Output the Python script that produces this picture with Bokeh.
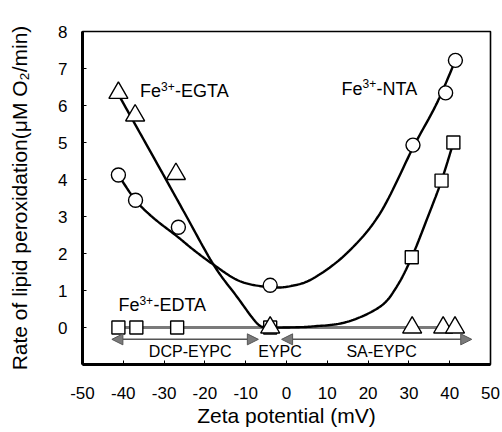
import numpy as np
from bokeh.plotting import figure
from bokeh.models import Range1d, FixedTicker, Arrow, NormalHead
from bokeh.core.properties import value
from bokeh.embed import file_html
from bokeh.resources import INLINE

# Measured rates of lipid peroxidation vs. zeta potential of the liposomes
nta_x = [-41.2, -37.0, -26.5, -4.0, 31.0, 39.0, 41.4]
nta_y = [4.12, 3.44, 2.71, 1.14, 4.93, 6.34, 7.22]

egta_x = [-41.2, -37.1, -27.1, -4.0, 30.8, 38.4, 41.3]
egta_y = [6.34, 5.73, 4.15, 0.0, 0.0, 0.0, 0.0]

edta_x = [-41.2, -36.8, -26.8, -4.0, 30.7, 38.0, 40.9]
edta_y = [0.0, 0.0, 0.0, 0.0, 1.90, 3.97, 5.00]

# Fitted trend curves (sampled along each curve)
nta_fit_x = [-41.2, -37.0, -32.6, -26.9, -22.8, -17.9, -11.4, -4.0, 1.0, 6.6, 14.8, 22.9, 31.1, 36.8, 41.4]
nta_fit_y = [4.12, 3.44, 2.96, 2.47, 2.10, 1.70, 1.25, 1.09, 1.12, 1.33, 2.01, 3.08, 4.88, 6.05, 7.22]

egta_fit_x = [-41.2, -37.1, -30.4, -24.9, -17.9, -12.2, -7.3, -5.0]
egta_fit_y = [6.30, 5.49, 4.17, 3.08, 1.70, 0.84, 0.12, 0.0]

edta_fit_x = [-4.0, 0.0, 6.6, 14.8, 22.9, 27.0, 30.7, 34.5, 38.0, 40.9]
edta_fit_y = [0.0, 0.0, 0.03, 0.15, 0.56, 1.10, 1.90, 2.95, 3.97, 5.00]

# Chelator labels: base name, charge, complex name
chelator_base = ["Fe", "Fe", "Fe"]
chelator_charge = ["3+", "3+", "3+"]
chelator_tail = ["-EGTA", "-NTA", "-EDTA"]
chelator_label_x = [-35.9, 13.5, -41.2]
chelator_label_y = [6.39, 6.45, 0.60]

# Liposome composition ranges along the zeta axis
region_names = ["DCP-EYPC", "EYPC", "SA-EYPC"]
region_label_x = [-23.6, -1.6, 23.3]
region_label_y = [-0.66, -0.66, -0.66]
dcp_span = (-42.8, -6.9)
sa_span = (-1.2, 45.4)
span_y = -0.32

x_ticks = list(range(-50, 51, 10))
y_ticks = list(range(0, 9))

FONT = "Liberation Sans"


def smooth(xs, ys, n=16):
    """Catmull-Rom path through the sampled curve points."""
    pts = list(zip(xs, ys))
    out_x, out_y = [], []
    for i in range(len(pts) - 1):
        p0 = pts[i - 1] if i > 0 else pts[i]
        p1, p2 = pts[i], pts[i + 1]
        p3 = pts[i + 2] if i + 2 < len(pts) else pts[i + 1]
        for t in np.linspace(0, 1, n, endpoint=False):
            t2, t3 = t * t, t * t * t
            for k, out in ((0, out_x), (1, out_y)):
                out.append(0.5 * (2 * p1[k] + (-p0[k] + p2[k]) * t
                                  + (2 * p0[k] - 5 * p1[k] + 4 * p2[k] - p3[k]) * t2
                                  + (-p0[k] + 3 * p1[k] - 3 * p2[k] + p3[k]) * t3))
    out_x.append(pts[-1][0])
    out_y.append(pts[-1][1])
    return out_x, out_y


p = figure(
    width=502, height=432,
    x_range=Range1d(-50, 50), y_range=Range1d(-1, 8),
    output_backend="svg", toolbar_location=None,
    min_border_left=82, min_border_right=12,
    min_border_top=31, min_border_bottom=68,
)
p.background_fill_color = "white"
p.border_fill_color = "white"
p.outline_line_color = "black"
p.outline_line_width = 1.6
p.xgrid.visible = False
p.ygrid.visible = False

for ax in (p.xaxis[0], p.yaxis[0]):
    ax.axis_line_width = 3
    ax.axis_line_color = "black"
    ax.major_tick_in = 4
    ax.major_tick_out = 0
    ax.major_tick_line_width = 1
    ax.minor_tick_line_color = None
    ax.major_label_text_font = FONT
    ax.major_label_text_font_size = "17px"
    ax.major_label_text_color = "black"
    ax.axis_label_text_font = FONT
    ax.axis_label_text_font_size = "21px"
    ax.axis_label_text_font_style = "normal"
    ax.axis_label_text_color = "black"

p.xaxis.ticker = FixedTicker(ticks=x_ticks)
p.yaxis.ticker = FixedTicker(ticks=y_ticks)
p.xaxis.major_label_overrides = {t: str(t) for t in x_ticks}
p.xaxis.axis_label = "Zeta potential (mV)"
p.yaxis.axis_label = "Rate of lipid peroxidation(μM O₂/min)"
p.xaxis.major_label_standoff = 22
p.xaxis.axis_label_standoff = 2
p.yaxis.major_label_standoff = 15
p.yaxis.axis_label_standoff = 24

# zero-rate baselines
p.line(edta_x[:4], edta_y[:4], line_color="#7a7a7a", line_width=3)
p.line(egta_x[3:], egta_y[3:], line_color="#7a7a7a", line_width=3)

# fitted curves
for fx, fy in ((nta_fit_x, nta_fit_y), (egta_fit_x, egta_fit_y), (edta_fit_x, edta_fit_y)):
    sx, sy = smooth(fx, fy)
    p.line(sx, sy, line_color="black", line_width=2.4)

# composition range arrows
for x0, x1 in (dcp_span, sa_span):
    p.add_layout(Arrow(
        x_start=x0, x_end=x1, y_start=span_y, y_end=span_y,
        line_color="#555555", line_width=1.5,
        start=NormalHead(size=11, fill_color="#7a7a7a", line_color="#555555", line_width=1),
        end=NormalHead(size=11, fill_color="#7a7a7a", line_color="#555555", line_width=1),
    ))

# data points
p.scatter(edta_x, edta_y, marker="square", size=13, fill_color="white",
          line_color="black", line_width=1.4)
p.scatter(egta_x, egta_y, marker="triangle", size=19, fill_color="white",
          line_color="black", line_width=1.4)
p.scatter(nta_x, nta_y, marker="circle", size=14, fill_color="white",
          line_color="black", line_width=1.4)

# chelator labels with a raised charge
label_style = dict(text_font=value(FONT), text_color="black", text_align="left")
p.text(chelator_label_x, chelator_label_y, text=chelator_base,
       text_font_size="18px", text_baseline="middle", **label_style)
p.text(chelator_label_x, chelator_label_y, text=chelator_charge,
       text_font_size="12px", text_baseline="middle", x_offset=21, y_offset=-5,
       **label_style)
p.text(chelator_label_x, chelator_label_y, text=chelator_tail,
       text_font_size="18px", text_baseline="middle", x_offset=35, **label_style)

p.text(region_label_x, region_label_y, text=region_names,
       text_font=value(FONT), text_font_size="16px", text_color="black",
       text_align="center", text_baseline="middle")

open("out.html", "w").write(file_html(p, INLINE))
